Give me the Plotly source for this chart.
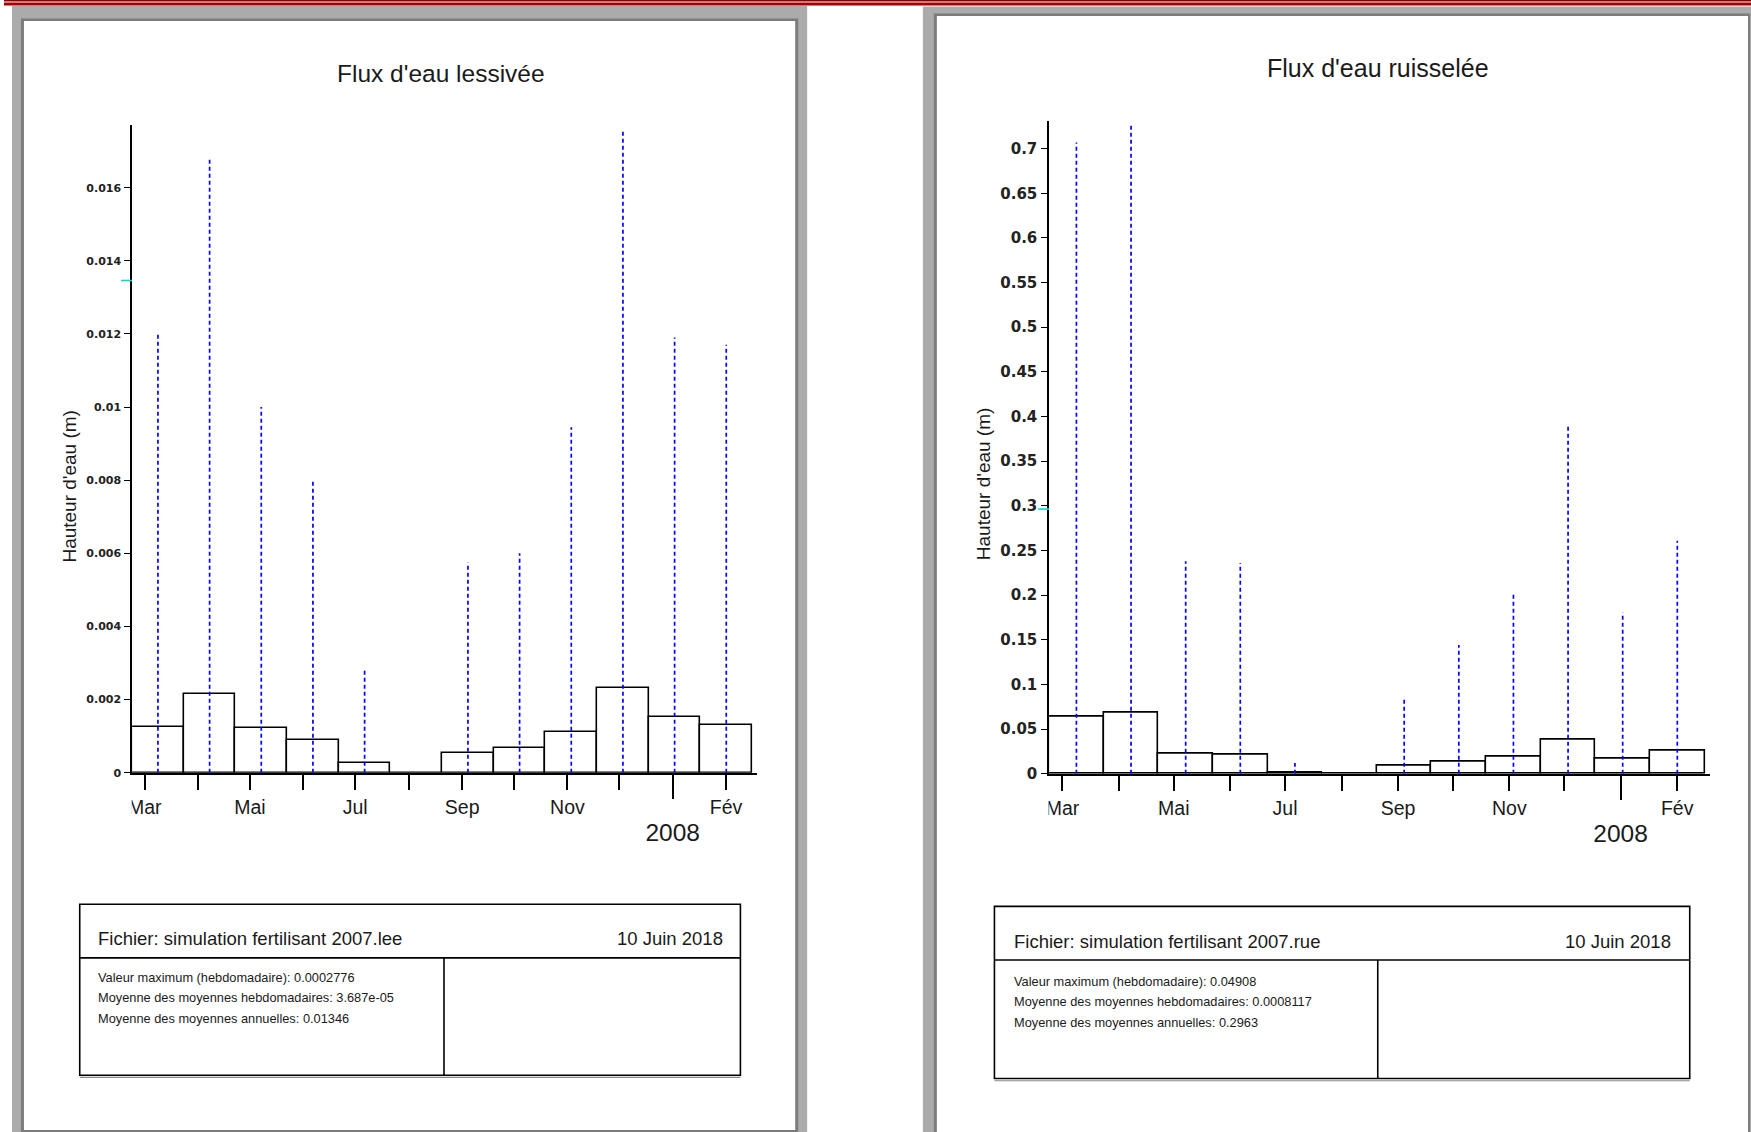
import plotly.graph_objects as go
from datetime import datetime

W, H = 1751, 1132
H_EFF = 1122  # effective vertical extent observed for paper coordinates

# ---------------- data ----------------
months = ["Mar", "Avr", "Mai", "Jun", "Jul", "Aoû", "Sep", "Oct", "Nov", "Déc", "Jan", "Fév"]
month_starts = [datetime(2007, m, 1) for m in range(3, 13)] + [datetime(2008, 1, 1), datetime(2008, 2, 1)]
month_tick_labels = ["Mar", "", "Mai", "", "Jul", "", "Sep", "", "Nov", "", "", "Fév"]
year_label = "2008"
year_month_index = 10  # janvier 2008

lee_bars = [0.00124, 0.00214, 0.00121, 0.00088, 0.00027, 0.0, 0.00054, 0.00066, 0.00111, 0.00232, 0.00153, 0.00130]
lee_peaks = [0.0120, 0.0168, 0.0100, 0.0080, 0.00285, None, 0.00575, 0.0060, 0.00945, 0.0176, 0.0119, 0.0117]
lee_mean = 0.01346
lee_yticks = [0, 0.002, 0.004, 0.006, 0.008, 0.010, 0.012, 0.014, 0.016]
lee_yticktext = ["0", "0.002", "0.004", "0.006", "0.008", "0.01", "0.012", "0.014", "0.016"]

rue_bars = [0.0643, 0.0688, 0.0229, 0.0214, 0.0015, 0.0, 0.0094, 0.0132, 0.0192, 0.0376, 0.0173, 0.0252]
rue_peaks = [0.707, 0.729, 0.238, 0.236, 0.012, None, 0.085, 0.144, 0.2005, 0.391, 0.1805, 0.261]
rue_mean = 0.2963
rue_yticks = [0, 0.05, 0.1, 0.15, 0.2, 0.25, 0.3, 0.35, 0.4, 0.45, 0.5, 0.55, 0.6, 0.65, 0.7]
rue_yticktext = ["0", "0.05", "0.1", "0.15", "0.2", "0.25", "0.3", "0.35", "0.4", "0.45", "0.5", "0.55", "0.6", "0.65", "0.7"]

titles = ["Flux d'eau lessivée", "Flux d'eau ruisselée"]
ytitle = "Hauteur d'eau (m)"
files = ["Fichier: simulation fertilisant 2007.lee", "Fichier: simulation fertilisant 2007.rue"]
date_txt = "10 Juin 2018"
stats = [
    ["Valeur maximum (hebdomadaire): 0.0002776",
     "Moyenne des moyennes hebdomadaires: 3.687e-05",
     "Moyenne des moyennes annuelles: 0.01346"],
    ["Valeur maximum (hebdomadaire): 0.04908",
     "Moyenne des moyennes hebdomadaires: 0.0008117",
     "Moyenne des moyennes annuelles: 0.2963"],
]

# ---------------- geometry helpers ----------------
FONT = "Liberation Sans, Arial, sans-serif"
TICKFONT = "DejaVu Sans, Liberation Sans, sans-serif"


def px(x):
    return x / W


def py(y):
    return 1 - y / H_EFF


# period axis: each bar = one ~30 day period, starting a week before March 1st
origin = datetime(2007, 2, 21, 16)
period_days = 29.95


def period_pos(d):
    return (d - origin).total_seconds() / 86400.0 / period_days


tick_pos = [period_pos(d) for d in month_starts]
main_tickvals = [p for i, p in enumerate(tick_pos) if i != year_month_index]
main_ticktext = [t for i, t in enumerate(month_tick_labels) if i != year_month_index]
XR = [0, 12.1]

fig = go.Figure()

panels = [
    dict(bars=lee_bars, peaks=lee_peaks, mean=lee_mean, yt=lee_yticks, ytt=lee_yticktext,
         xd=[128.4, 755.0], y0=772.0, ytop=125.0, ymax=0.01771, tfs=11,
         xa="x", ya="y", xa_o="x3"),
    dict(bars=rue_bars, peaks=rue_peaks, mean=rue_mean, yt=rue_yticks, ytt=rue_yticktext,
         xd=[1047.5, 1710.0], y0=773.0, ytop=120.6, ymax=0.7313, tfs=15,
         xa="x2", ya="y2", xa_o="x4"),
]

layout_axes = {}
for k, p in enumerate(panels):
    xs = [i + 0.5 for i in range(len(months))]
    fig.add_trace(go.Bar(x=xs, y=p["bars"], width=1.0, xaxis=p["xa"], yaxis=p["ya"],
                         marker=dict(color="white", line=dict(color="black", width=1.6)),
                         hovertext=months, showlegend=False))
    lx, ly = [], []
    for i, v in enumerate(p["peaks"]):
        if v is None:
            continue
        lx += [i + 0.5, i + 0.5, None]
        ly += [0, v, None]
    fig.add_trace(go.Scatter(x=lx, y=ly, mode="lines", xaxis=p["xa"], yaxis=p["ya"],
                             line=dict(color="#0000ff", width=1.7, dash="4px,3px"),
                             showlegend=False, hoverinfo="skip"))
    fig.add_trace(go.Scatter(x=[], y=[], xaxis=p["xa_o"], yaxis=p["ya"], showlegend=False))

    dom_x = [px(p["xd"][0]), px(p["xd"][1])]
    dom_y = [py(p["y0"]), py(p["ytop"])]
    xname = "xaxis" if p["xa"] == "x" else "xaxis" + p["xa"][1:]
    yname = "yaxis" if p["ya"] == "y" else "yaxis" + p["ya"][1:]
    oname = "xaxis" + p["xa_o"][1:]
    layout_axes[xname] = dict(domain=dom_x, anchor=p["ya"], range=XR, showgrid=False, zeroline=False,
                              showline=True, linecolor="black", linewidth=1.6,
                              tickmode="array", tickvals=main_tickvals, ticktext=main_ticktext,
                              ticks="outside", ticklen=16, tickwidth=1.6, tickcolor="black",
                              ticklabelstandoff=0,
                              tickfont=dict(family=FONT, size=19.5, color="#1a1a1a"))
    layout_axes[oname] = dict(overlaying=p["xa"], anchor=p["ya"], side="bottom", range=XR,
                              showgrid=False, zeroline=False, showline=False,
                              tickmode="array", tickvals=[tick_pos[year_month_index]], ticktext=[year_label],
                              ticks="outside", ticklen=25, tickwidth=1.6, tickcolor="black",
                              ticklabelstandoff=13,
                              tickfont=dict(family=FONT, size=24.5, color="#1a1a1a"))
    layout_axes[yname] = dict(domain=dom_y, anchor=p["xa"], range=[0, p["ymax"]], showgrid=False,
                              zeroline=False, showline=True, linecolor="black", linewidth=1.6,
                              tickmode="array", tickvals=p["yt"], ticktext=p["ytt"],
                              ticks="outside", ticklen=6, tickwidth=1.3, tickcolor="black",
                              ticklabelstandoff=1,
                              tickfont=dict(family=TICKFONT, size=p["tfs"], color="#222", weight="bold"))

# ---------------- page decoration shapes ----------------
shapes = []


def rect(x0, y0, x1, y1, fill, layer="below", line=None):
    d = dict(type="rect", xref="paper", yref="paper", x0=px(x0), x1=px(x1), y0=py(y0), y1=py(y1),
             fillcolor=fill, layer=layer, line=dict(width=0) if line is None else line)
    shapes.append(d)


def hline(x0, x1, y, color="black", width=1.6, layer="above"):
    shapes.append(dict(type="line", xref="paper", yref="paper", x0=px(x0), x1=px(x1), y0=py(y), y1=py(y),
                       line=dict(color=color, width=width), layer=layer))


def vline(x, y0, y1, color="black", width=1.6, layer="above"):
    shapes.append(dict(type="line", xref="paper", yref="paper", x0=px(x), x1=px(x), y0=py(y0), y1=py(y1),
                       line=dict(color=color, width=width), layer=layer))


# red banner at the top
rect(0, 0, W, 1.5, "#8c0000")
rect(0, 2.4, W, 5.4, "#a80000")
# left page
rect(8, 6, 805, H + 20, "#ababab")
rect(17, 18.5, 796, 1131, "#7c7c7c")
rect(20, 21, 793, 1129, "white")
# right page
rect(921, 6.5, W, H + 20, "#ababab")
rect(932, 13.5, 1750, H + 20, "#7c7c7c")
rect(935, 16, 1748, H + 20, "white")

# info boxes
boxes = [dict(x0=75.9, x1=738.1, y0=903.4, y1=1074.3, yd=957.0, xv=441.0),
         dict(x0=992.7, x1=1689.6, y0=905.6, y1=1077.6, yd=959.2, xv=1376.9)]
for b in boxes:
    rect(b["x0"], b["y0"], b["x1"], b["y1"], "rgba(0,0,0,0)", layer="above",
         line=dict(color="black", width=1.6))
    hline(b["x0"], b["x1"], b["y1"] + 2.2, color="#888", width=1.2)
    hline(b["x0"], b["x1"], b["yd"])
    vline(b["xv"], b["yd"], b["y1"])

# mask clipping the left part of the first month label (as in the original)
rect(100, 790, 128.0, 822, "white", layer="above")
rect(1015, 790, 1047.0, 822, "white", layer="above")

# cyan annual-mean markers on the y axes
for p in panels:
    shapes.append(dict(type="line", xref="paper", yref=p["ya"], x0=px(p["xd"][0] - 11), x1=px(p["xd"][0]),
                       y0=p["mean"], y1=p["mean"], line=dict(color="#00d8d8", width=1.6), layer="above"))

# ---------------- texts ----------------
ann = []


def text(x, y, s, size, xanchor="center", angle=0, color="#1a1a1a", family=FONT):
    ann.append(dict(xref="paper", yref="paper", x=px(x), y=py(y), text=s, showarrow=False,
                    xanchor=xanchor, yanchor="middle", textangle=angle,
                    font=dict(family=family, size=size, color=color)))


text(438.5, 73.7, titles[0], 24.5)
text(1377.0, 68.0, titles[1], 25)
text(65.5, 485.8, ytitle, 19, angle=-90)
text(982.5, 483.5, ytitle, 19, angle=-90)

text(92.7, 938.0, files[0], 18.5, xanchor="left")
text(722.5, 938.0, date_txt, 18.5, xanchor="right")
text(1010.6, 940.5, files[1], 18.5, xanchor="left")
text(1672.8, 940.5, date_txt, 18.5, xanchor="right")

for j, yy in enumerate([977.0, 997.0, 1018.0]):
    text(92.7, yy, stats[0][j], 12.8, xanchor="left")
for j, yy in enumerate([980.5, 1000.6, 1021.8]):
    text(1010.6, yy, stats[1][j], 12.8, xanchor="left")

fig.update_layout(
    width=W, height=H, margin=dict(l=0, r=0, t=0, b=0), autosize=False,
    paper_bgcolor="white", plot_bgcolor="rgba(0,0,0,0)",
    shapes=shapes, annotations=ann, showlegend=False, bargap=0,
    **layout_axes,
)

fig.write_html("out.html",
               config={"responsive": False, "displayModeBar": False},
               post_script="document.body.style.margin='0px';document.body.style.overflow='hidden';")
